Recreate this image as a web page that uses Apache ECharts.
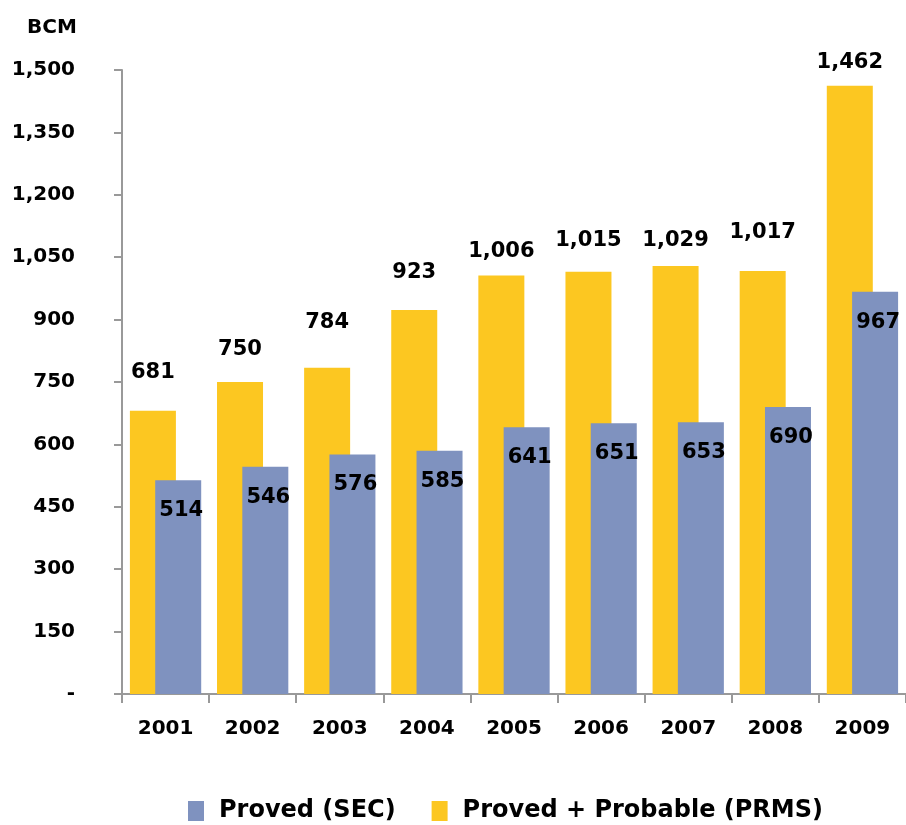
<!DOCTYPE html>
<html>
<head>
<meta charset="utf-8">
<script src="https://cdn.jsdelivr.net/npm/echarts@6/dist/echarts.min.js"></script>
<style>
  html, body { margin:0; padding:0; background:#fff; }
  #chart { width:906px; height:825px; }
</style>
</head>
<body>
<div id="chart"></div>
<script>
const years = ['2001','2002','2003','2004','2005','2006','2007','2008','2009'];
const provedSec = [514, 546, 576, 585, 641, 651, 653, 690, 967];
const provedProbable = [681, 750, 784, 923, 1006, 1015, 1029, 1017, 1462];
const yTicks = [0, 150, 300, 450, 600, 750, 900, 1050, 1200, 1350, 1500];

// labels above the yellow bars sit at uneven heights in the original
const prmsLabelGap = [28, 22, 35, 27, 13, 21, 15, 28, 13];

const fontFam = '"DejaVu Sans", sans-serif';

function fmt(v) {
  if (v === 0) return '-';
  return v.toLocaleString('en-US');
}

const myChart = echarts.init(document.getElementById('chart'));

const option = {
  animation: false,
  textStyle: { fontFamily: fontFam },
  title: {
    text: 'BCM',
    left: 22,
    top: 13,
    textStyle: { fontSize: 20, fontWeight: 'bold', color: '#000', fontFamily: fontFam }
  },
  legend: {
    data: ['Proved (SEC)', 'Proved + Probable (PRMS)'],
    top: 794,
    left: 183,
    itemWidth: 16,
    itemHeight: 20,
    itemGap: 36,
    icon: 'rect',
    textStyle: {
      fontSize: 24, fontWeight: 'bold', color: '#000', fontFamily: fontFam,
      padding: [0, 0, 0, 10]
    }
  },
  grid: {
    left: 122,
    top: 70,
    width: 792,
    height: 624
  },
  xAxis: {
    type: 'category',
    data: years,
    axisLine: { lineStyle: { color: '#999', width: 2 } },
    axisTick: { show: true, length: 9, lineStyle: { color: '#999', width: 2 } },
    axisLabel: { margin: 25, fontSize: 20, fontWeight: 'bold', color: '#000', fontFamily: fontFam }
  },
  yAxis: {
    type: 'value',
    min: 0,
    max: 1500,
    interval: 150,
    splitLine: { show: false },
    axisLine: { show: true, lineStyle: { color: '#999', width: 2 } },
    axisTick: { show: true, length: 8, lineStyle: { color: '#999', width: 2 } },
    axisLabel: {
      margin: 47,
      fontSize: 20,
      fontWeight: 'bold',
      color: '#000',
      fontFamily: fontFam,
      formatter: function (v) { return yTicks.indexOf(v) >= 0 ? fmt(v) : ''; }
    }
  },
  series: [
    {
      name: 'Proved + Probable (PRMS)',
      type: 'bar',
      barWidth: 46,
      barGap: '-45%',
      itemStyle: { color: '#FCC721' },
      data: provedProbable.map(function (v, i) {
        return {
          value: v,
          label: { distance: prmsLabelGap[i] }
        };
      }),
      label: {
        show: true,
        position: 'top',
        fontSize: 21,
        fontWeight: 'bold',
        color: '#000',
        fontFamily: fontFam,
        formatter: function (p) { return fmt(p.value); }
      }
    },
    {
      name: 'Proved (SEC)',
      type: 'bar',
      barWidth: 46,
      itemStyle: { color: '#7F92BF' },
      data: provedSec,
      label: {
        show: true,
        position: 'insideTop',
        distance: 20,
        offset: [3, 0],
        fontSize: 21,
        fontWeight: 'bold',
        color: '#000',
        fontFamily: fontFam,
        formatter: function (p) { return fmt(p.value); }
      }
    }
  ]
};

myChart.setOption(option);
</script>
</body>
</html>
